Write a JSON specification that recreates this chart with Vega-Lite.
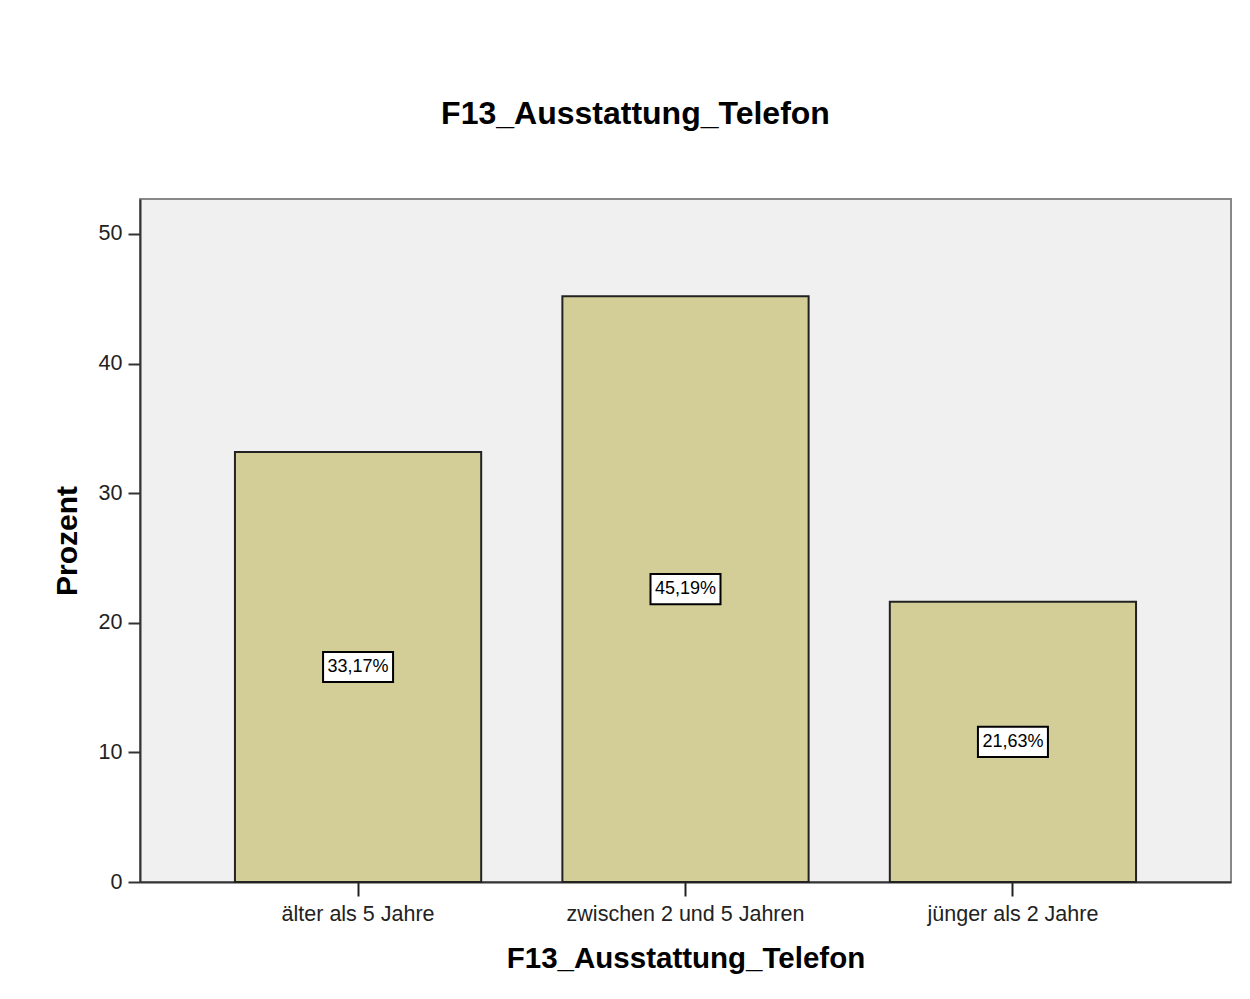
{
  "$schema": "https://vega.github.io/schema/vega-lite/v6.json",
  "autosize": "none",
  "width": 1091,
  "height": 683,
  "padding": {"left": 140, "top": 199, "right": 19, "bottom": 117},
  "background": "#ffffff",
  "title": {
    "text": "F13_Ausstattung_Telefon",
    "font": "Liberation Sans",
    "fontSize": 32,
    "fontWeight": "bold",
    "color": "#000000",
    "anchor": "middle",
    "dx": -50,
    "offset": 68
  },
  "config": {
    "font": "Liberation Sans",
    "view": {"fill": "#f0f0f0", "stroke": "#888888", "strokeWidth": 2}
  },
  "data": {
    "values": [
      {"cat": "älter als 5 Jahre", "value": 33.17},
      {"cat": "zwischen 2 und 5 Jahren", "value": 45.19},
      {"cat": "jünger als 2 Jahre", "value": 21.63}
    ]
  },
  "transform": [
    {"calculate": "datum.value / 2", "as": "mid"},
    {"calculate": "replace(format(datum.value, '.2f'), '.', ',') + '%'", "as": "label"}
  ],
  "encoding": {
    "x": {
      "field": "cat",
      "type": "nominal",
      "sort": null,
      "scale": {"paddingInner": 0.248, "paddingOuter": 0.29},
      "axis": {
        "title": "F13_Ausstattung_Telefon",
        "titleFont": "Liberation Sans",
        "titleFontSize": 29.5,
        "titleFontWeight": "bold",
        "titleColor": "#000000",
        "titlePadding": 20,
        "labelAngle": 0,
        "labelFontSize": 21.5,
        "labelLimit": 400,
        "labelColor": "#222222",
        "labelPadding": 7,
        "domainColor": "#333333",
        "domainWidth": 2,
        "tickColor": "#222222",
        "tickWidth": 2,
        "tickSize": 14
      }
    }
  },
  "layer": [
    {
      "mark": {"type": "bar", "fill": "#d3ce97", "stroke": "#222222", "strokeWidth": 2},
      "encoding": {
        "y": {
          "field": "value",
          "type": "quantitative",
          "scale": {"domain": [0, 52.7], "nice": false},
          "axis": {
            "title": "Prozent",
            "titleFont": "Liberation Sans",
            "titleFontSize": 30,
            "titleFontWeight": "bold",
            "titleColor": "#000000",
            "titlePadding": 16,
            "values": [0, 10, 20, 30, 40, 50],
            "grid": false,
            "labelFontSize": 21.5,
            "labelColor": "#222222",
            "labelPadding": 6,
            "domainColor": "#333333",
            "domainWidth": 2,
            "tickColor": "#333333",
            "tickWidth": 2,
            "tickSize": 12
          }
        }
      }
    },
    {
      "mark": {
        "type": "point",
        "shape": "M-1,-0.43H1V0.43H-1Z",
        "size": 4900,
        "filled": true,
        "fill": "#ffffff",
        "stroke": "#000000",
        "strokeWidth": 2,
        "opacity": 1
      },
      "encoding": {
        "y": {"field": "mid", "type": "quantitative"}
      }
    },
    {
      "mark": {"type": "text", "fontSize": 18, "color": "#000000", "font": "Liberation Sans", "baseline": "middle", "align": "center"},
      "encoding": {
        "y": {"field": "mid", "type": "quantitative"},
        "text": {"field": "label"}
      }
    }
  ]
}
